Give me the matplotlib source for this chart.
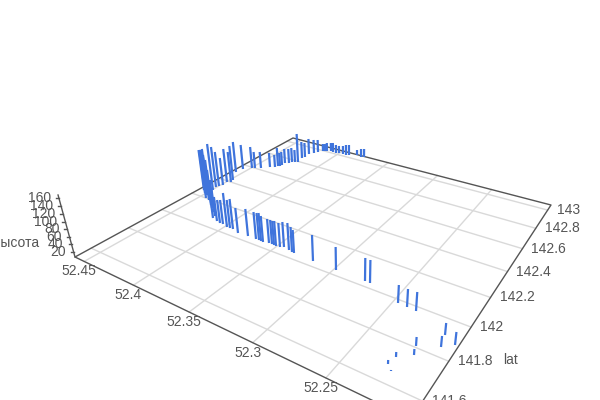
import numpy as np
import matplotlib
matplotlib.use('Agg')
import matplotlib.pyplot as plt
from matplotlib.collections import LineCollection

plt.rcParams['font.family'] = ['Liberation Sans', 'DejaVu Sans']

lon_ticks = [52.25, 52.3, 52.35, 52.4, 52.45]
lat_ticks = [141.6, 141.8, 142, 142.2, 142.4, 142.6, 142.8, 143]
z_ticks = [20, 40, 60, 80, 100, 120, 140, 160]

lon_min, lon_max = 52.2, 52.46
lat_min, lat_max = 141.52, 143.06
z_min, z_max = 5, 168

# floor corners of the box on the canvas, (lon, lat) -> pixel
corners = [((lon_min, lat_min), (411, 419)), ((lon_max, lat_min), (75, 257)),
           ((lon_max, lat_max), (293, 138)), ((lon_min, lat_max), (551, 205))]
vanish = (352, 1270)

A, b = [], []
for (lo, la), (px, py) in corners:
    A.append([lo, la, 1, 0, 0, 0, -px * lo, -px * la])
    A.append([0, 0, 0, lo, la, 1, -py * lo, -py * la])
    b += [px, py]
h = np.linalg.solve(np.array(A, float), np.array(b, float))
H = np.array([h[:3], h[3:6], [h[6], h[7], 1]])


def unproject(px, py):
    p = np.linalg.solve(H, [px, py, 1])
    return p[0] / p[2], p[1] / p[2]


w = H[2] @ [lon_max, lat_min, 1]
fl = H @ [lon_max, lat_min, 1]
# k so that the z axis reaches (58, 195) at the left corner
k = (fl[1] - 195 * fl[2]) / (195 - vanish[1])


def project(lon, lat, z=z_min):
    t = (np.asarray(z, float) - z_min) / (z_max - z_min)
    p = H @ np.array([lon, lat, 1.0 * np.ones_like(np.asarray(lon, float))])
    x = p[0] + t * k * vanish[0]
    y = p[1] + t * k * vanish[1]
    s = p[2] + t * k
    return x / s, y / s


bars_px = [(391,371,370),(388,364,360),(396,357,352),(414,355,349),(416,346,337),(441,347,336),(445,335,323),(455,345,332),
(416,311,292),(407,307,289),(398,303,285),(370,283,260),(365,281,258),(336,270,247),(313,261,235),(294,253,230),(292,252,227),
(289,250,223),(284,247,222),(280,247,223),(276,246,221),(274,245,221),(272,244,220),(269,243,219),(263,242,216),(261,241,213),
(259,240,213),(256,239,212),(248,236,209),(238,233,208),(233,229,199),(230,228,200),(227,227,193),(223,224,200),(220,223,200),
(217,221,197),(213,218,190),(215,216,190),(214,212,180),(212,208,170),(211,205,160),(209,200,155),(207,195,150),(206,198,150),(204,190,150),
(205,193,150),(208,195,149),(213,190,144),(216,187,147),(219,186,152),(223,185,158),(227,182,149),(231,182,152),(233,180,146),(236,172,142),
(243,169,145),(252,168,147),(255,168,152),(261,168,152),(270,167,153),(275,167,155),(278,166,148),(280,166,153),(282,165,152),(285,163,149),
(289,163,149),(292,162,148),(295,162,150),(298,162,134),(302,158,142),(305,157,143),(309,154,139),(314,153,140),(318,152,140),(323,151,144),
(325,151,144),(327,151,143),(331,151,143),(333,152,143),(336,153,145),(339,153,146),(343,154,146),(346,155,145),(349,155,145),(357,155,150),
(361,157,149),(364,157,149)]

lons, lats, hs = [], [], []
for bx, by, ty in bars_px:
    lo, la = unproject(bx, by)
    lons.append(lo); lats.append(la)
    zs = np.linspace(z_min, 300, 3000)
    ys = project(lo * np.ones_like(zs), la * np.ones_like(zs), zs)[1]
    hs.append(zs[np.argmin(abs(ys - ty))])

fig = plt.figure(figsize=(6, 4), dpi=100)
ax = fig.add_axes([0, 0, 1, 1])
ax.set_xlim(0, 600); ax.set_ylim(400, 0); ax.axis('off')

grey = '#d9d9d9'; dark = '#555555'
for t in lon_ticks:
    a = project(np.array([t, t]), np.array([lat_min, lat_max]))
    ax.plot(a[0], a[1], color=grey, lw=1, zorder=1)
    ax.text(a[0][0] - 5, a[1][0] + 10, str(t), color=dark, fontsize=10, ha='center', va='center', clip_on=False)
for t in lat_ticks:
    a = project(np.array([lon_min, lon_max]), np.array([t, t]))
    ax.plot(a[0], a[1], color=grey, lw=1, zorder=1)
    ax.text(a[0][0] + 9, a[1][0], str(t), color=dark, fontsize=10, ha='left', va='center')
edge_lon = [lon_min, lon_max, lon_max, lon_min, lon_min]
edge_lat = [lat_min, lat_min, lat_max, lat_max, lat_min]
a = project(np.array(edge_lon), np.array(edge_lat))
ax.plot(a[0], a[1], color=dark, lw=1, zorder=2)
zx, zy = project(np.full(2, lon_max), np.full(2, lat_min), np.array([z_min, z_max]))
ax.plot(zx, zy, color=dark, lw=1, zorder=2)
for t in z_ticks:
    tx, ty = project(np.array([lon_max]), np.array([lat_min]), np.array([t]))
    ax.plot([tx[0] - 3, tx[0]], [ty[0], ty[0]], color=dark, lw=1)
    ax.text(tx[0] - 8, ty[0], str(t), color=dark, fontsize=10, ha='right', va='center')
ax.text(39, 243, 'высота', color=dark, fontsize=10, ha='right', va='center')
ax.text(511, 360, 'lat', color=dark, fontsize=10, ha='center', va='center')

lons = np.array(lons); lats = np.array(lats); hs = np.array(hs)
x0, y0 = project(lons, lats)
x1, y1 = project(lons, lats, hs)
segs = [[(a1, b1), (a2, b2)] for a1, b1, a2, b2 in zip(x0, y0, x1, y1)]
ax.add_collection(LineCollection(segs, colors='#3f74dc', linewidths=1.6, capstyle='butt', zorder=3))

fig.savefig('out.png', dpi=100)
